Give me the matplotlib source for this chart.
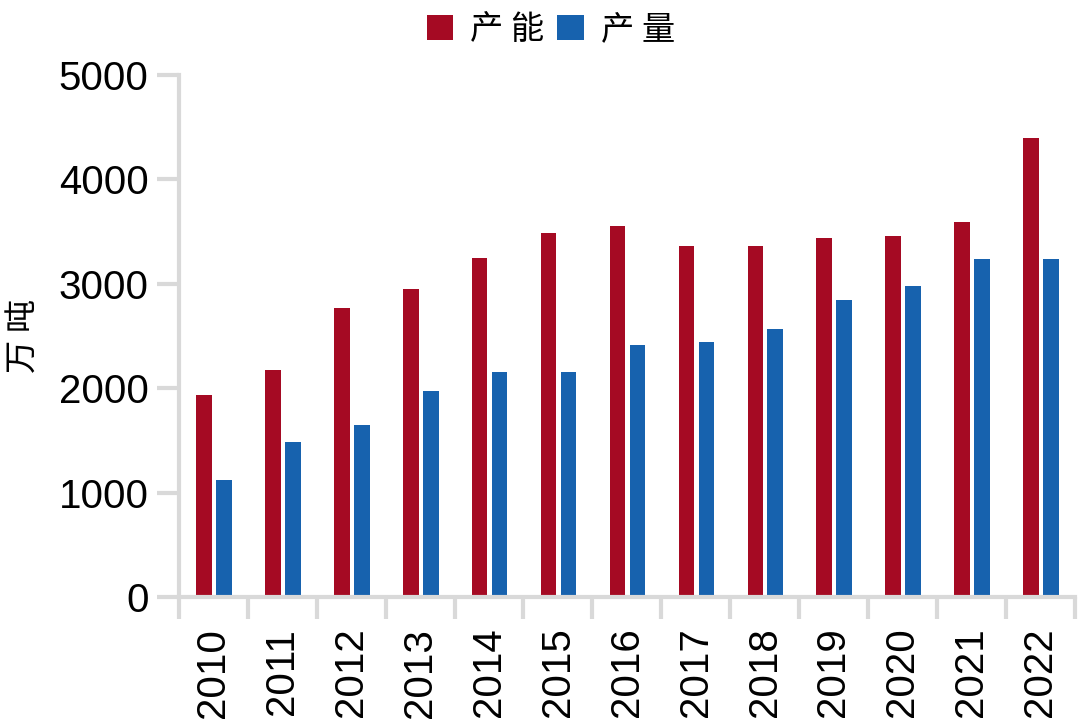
import numpy as np
import matplotlib.pyplot as plt

# Data (万吨)
years = ['2010', '2011', '2012', '2013', '2014', '2015', '2016',
         '2017', '2018', '2019', '2020', '2021', '2022']
capacity = [1940, 2175, 2770, 2950, 3245, 3490, 3555, 3360, 3360, 3440, 3460, 3590, 4400]
output = [1120, 1490, 1650, 1970, 2155, 2155, 2415, 2445, 2565, 2845, 2980, 3240, 3240]

plt.rcParams['font.family'] = ['Liberation Sans', 'Noto Sans CJK SC', 'DejaVu Sans']

red = '#A50A23'
blue = '#1762AE'
grey = '#D9D9D9'

fig = plt.figure(figsize=(10.8, 7.22), dpi=100)
ax = fig.add_axes([0.1657, 0.173, 0.8293, 0.723])

x = np.arange(len(years))
w = 0.225
ax.bar(x - 0.135, capacity, w, color=red, label='产 能')
ax.bar(x + 0.155, output, w, color=blue, label='产 量')

ax.set_xlim(-0.5, len(years) - 0.5)
ax.set_ylim(0, 5000)
ax.set_yticks(range(0, 5001, 1000))
ax.set_xticks(x)
ax.set_xticklabels(years, rotation=90, fontsize=29)
ax.set_xticks(np.arange(-0.5, len(years)), minor=True)
ax.tick_params(axis='x', which='major', length=0, pad=22)
ax.tick_params(axis='x', which='minor', length=16, width=3, color=grey)
ax.tick_params(axis='y', labelsize=29, length=16, width=3, color=grey, pad=6)

for s in ['top', 'right']:
    ax.spines[s].set_visible(False)
for s in ['left', 'bottom']:
    ax.spines[s].set_color(grey)
    ax.spines[s].set_linewidth(3)

ax.set_ylabel('万 吨', fontsize=24, family=['Noto Sans CJK SC'], labelpad=12)

fig.legend(loc='upper center', bbox_to_anchor=(0.51, 1.025), ncol=2, frameon=False,
           prop={'family': ['Noto Sans CJK SC'], 'size': 24},
           handlelength=0.8, handleheight=0.8, handletextpad=0.5, columnspacing=0.4)

plt.savefig('out.png', dpi=100)
